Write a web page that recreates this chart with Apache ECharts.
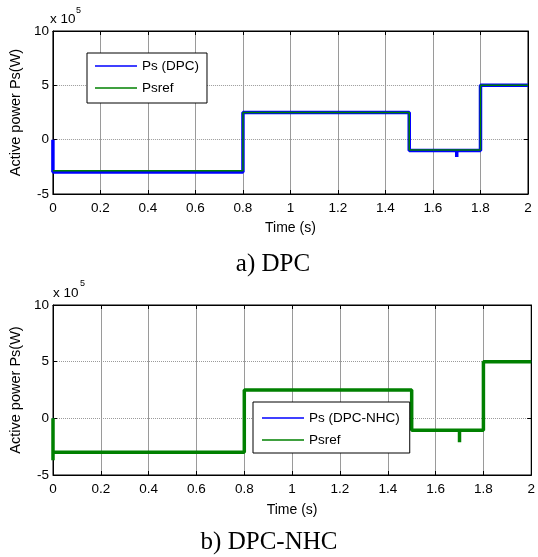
<!DOCTYPE html>
<html>
<head>
<meta charset="utf-8">
<script src="https://cdn.jsdelivr.net/npm/echarts@6/dist/echarts.min.js"></script>
<style>
  html, body { margin: 0; padding: 0; background: #fff; }
  #chart { width: 538px; height: 557px; }
</style>
</head>
<body>
<div id="chart"></div>
<script>
// Active power step response, values in units of 1e5 W
// a) DPC
const dpcPsTime  = [0, 0, 0.8, 0.8, 1.5, 1.5, 1.7, 1.7, 1.7, 1.8, 1.8, 2];
const dpcPsValue = [0, -2.97, -2.97, 2.5, 2.5, -1.0, -1.0, -1.6, -1.0, -1.0, 5.0, 5.0];
const dpcRefTime  = [0, 0.8, 0.8, 1.5, 1.5, 1.8, 1.8, 2];
const dpcRefValue = [-2.85, -2.85, 2.5, 2.5, -0.95, -0.95, 5.0, 5.0];

// b) DPC-NHC
const nhcPsTime  = [0, 0, 0.8, 0.8, 1.5, 1.5, 1.8, 1.8, 2];
const nhcPsValue = [0, -3.0, -3.0, 2.5, 2.5, -1.05, -1.05, 5.0, 5.0];
const nhcRefTime  = [0, 0, 0, 0.8, 0.8, 1.5, 1.5, 1.7, 1.7, 1.7, 1.8, 1.8, 2];
const nhcRefValue = [0, -3.7, -3.0, -3.0, 2.5, 2.5, -1.05, -1.05, -2.1, -1.05, -1.05, 5.0, 5.0];

const timeRange = [0, 2];
const timeStep = 0.2;
const powerRange = [-5, 10];
const powerStep = 5;

const seriesNames = ['Ps (DPC)', 'Psref', 'Ps (DPC-NHC)', 'Psref '];
const captions = ['a) DPC', 'b) DPC-NHC'];

const pairs = (ts, vs) => ts.map((t, i) => [t, vs[i]]);

const FONT = 'Liberation Sans, Arial, sans-serif';
const SERIF = 'Liberation Serif, Times New Roman, serif';

function mainX(grid, gap) {
  return {
    type: 'value', gridIndex: grid, position: 'bottom',
    min: timeRange[0], max: timeRange[1], interval: timeStep,
    name: 'Time (s)', nameLocation: 'middle', nameGap: gap,
    nameTextStyle: { color: '#000', fontFamily: FONT, fontSize: 14 },
    axisLine: { show: true, onZero: false, lineStyle: { color: '#000', width: 1 } },
    axisTick: { show: true, inside: true, length: 4, lineStyle: { color: '#000' } },
    axisLabel: { color: '#000', fontFamily: FONT, fontSize: 13.5, margin: 7 },
    splitLine: { show: true, lineStyle: { color: '#9a9a9a', width: 1, type: 'solid' } }
  };
}
function sideX(grid) {
  return {
    type: 'value', gridIndex: grid, position: 'top',
    min: timeRange[0], max: timeRange[1], interval: timeStep,
    axisLine: { show: true, onZero: false, lineStyle: { color: '#000', width: 1 } },
    axisTick: { show: true, inside: true, length: 4, lineStyle: { color: '#000' } },
    axisLabel: { show: false }, splitLine: { show: false }
  };
}
function mainY(grid, gap) {
  return {
    type: 'value', gridIndex: grid, position: 'left',
    min: powerRange[0], max: powerRange[1], interval: powerStep,
    name: 'Active power Ps(W)', nameLocation: 'middle', nameGap: gap,
    nameTextStyle: { color: '#000', fontFamily: FONT, fontSize: 14.5 },
    axisLine: { show: true, onZero: false, lineStyle: { color: '#000', width: 1 } },
    axisTick: { show: true, inside: true, length: 4, lineStyle: { color: '#000' } },
    axisLabel: { color: '#000', fontFamily: FONT, fontSize: 13.5, margin: 4 },
    splitLine: { show: true, lineStyle: { color: '#9a9a9a', width: 1, type: [1, 1] } }
  };
}
function sideY(grid) {
  return {
    type: 'value', gridIndex: grid, position: 'right',
    min: powerRange[0], max: powerRange[1], interval: powerStep,
    axisLine: { show: true, onZero: false, lineStyle: { color: '#000', width: 1 } },
    axisTick: { show: true, inside: true, length: 4, lineStyle: { color: '#000' } },
    axisLabel: { show: false }, splitLine: { show: false }
  };
}

function lineSeries(name, data, xi, yi, color, width, z) {
  return {
    name: name, type: 'line', data: data, xAxisIndex: xi, yAxisIndex: yi,
    showSymbol: false, symbol: 'none', animation: false, z: z,
    lineStyle: { color: color, width: width }, itemStyle: { color: color }
  };
}

function legendBox(names, left, top, padding) {
  return {
    data: names, orient: 'vertical', left: left, top: top,
    padding: padding, itemGap: 8, itemWidth: 42, itemHeight: 1.5,
    icon: 'rect',
    backgroundColor: '#fff', borderColor: '#000', borderWidth: 1,
    selectedMode: false,
    textStyle: { color: '#000', fontFamily: FONT, fontSize: 13.5, lineHeight: 14 }
  };
}

const chart = echarts.init(document.getElementById('chart'), null, { renderer: 'canvas' });

chart.setOption({
  backgroundColor: '#fff',
  animation: false,
  grid: [
    { left: 50, top: 31, width: 478, height: 163, show: true, borderColor: '#000', borderWidth: 1 },
    { left: 53, top: 305, width: 482, height: 170, show: true, borderColor: '#000', borderWidth: 1 }
  ],
  xAxis: [mainX(0, 27), sideX(0), mainX(1, 28), sideX(1)],
  yAxis: [mainY(0, 27), sideY(0), mainY(1, 28), sideY(1)],
  legend: [
    legendBox([seriesNames[0], seriesNames[1]], 87, 53, [6, 8, 8, 8]),
    legendBox([seriesNames[2], seriesNames[3]], 253, 402, [9, 10, 6, 9])
  ],
  series: [
    lineSeries(seriesNames[0], pairs(dpcPsTime, dpcPsValue), 0, 0, '#0000ff', 3.5, 2),
    lineSeries(seriesNames[1], pairs(dpcRefTime, dpcRefValue), 0, 0, '#008000', 1.5, 3),
    lineSeries(seriesNames[2], pairs(nhcPsTime, nhcPsValue), 2, 2, '#0000ff', 1.2, 2),
    lineSeries(seriesNames[3], pairs(nhcRefTime, nhcRefValue), 2, 2, '#008000', 3.5, 3)
  ],
  graphic: [
    { type: 'text', left: 50, top: 12, style: { text: 'x 10', fontFamily: FONT, fontSize: 13.5, fill: '#000' } },
    { type: 'text', left: 76, top: 6, style: { text: '5', fontFamily: FONT, fontSize: 9, fill: '#000' } },
    { type: 'text', left: 53, top: 286, style: { text: 'x 10', fontFamily: FONT, fontSize: 13.5, fill: '#000' } },
    { type: 'text', left: 80, top: 279, style: { text: '5', fontFamily: FONT, fontSize: 9, fill: '#000' } },
    { type: 'text', x: 273, y: 264, style: { text: captions[0], fontFamily: SERIF, fontSize: 25, fill: '#000', align: 'center', verticalAlign: 'middle' } },
    { type: 'text', x: 269, y: 542, style: { text: captions[1], fontFamily: SERIF, fontSize: 25, fill: '#000', align: 'center', verticalAlign: 'middle' } }
  ]
});
</script>
</body>
</html>
